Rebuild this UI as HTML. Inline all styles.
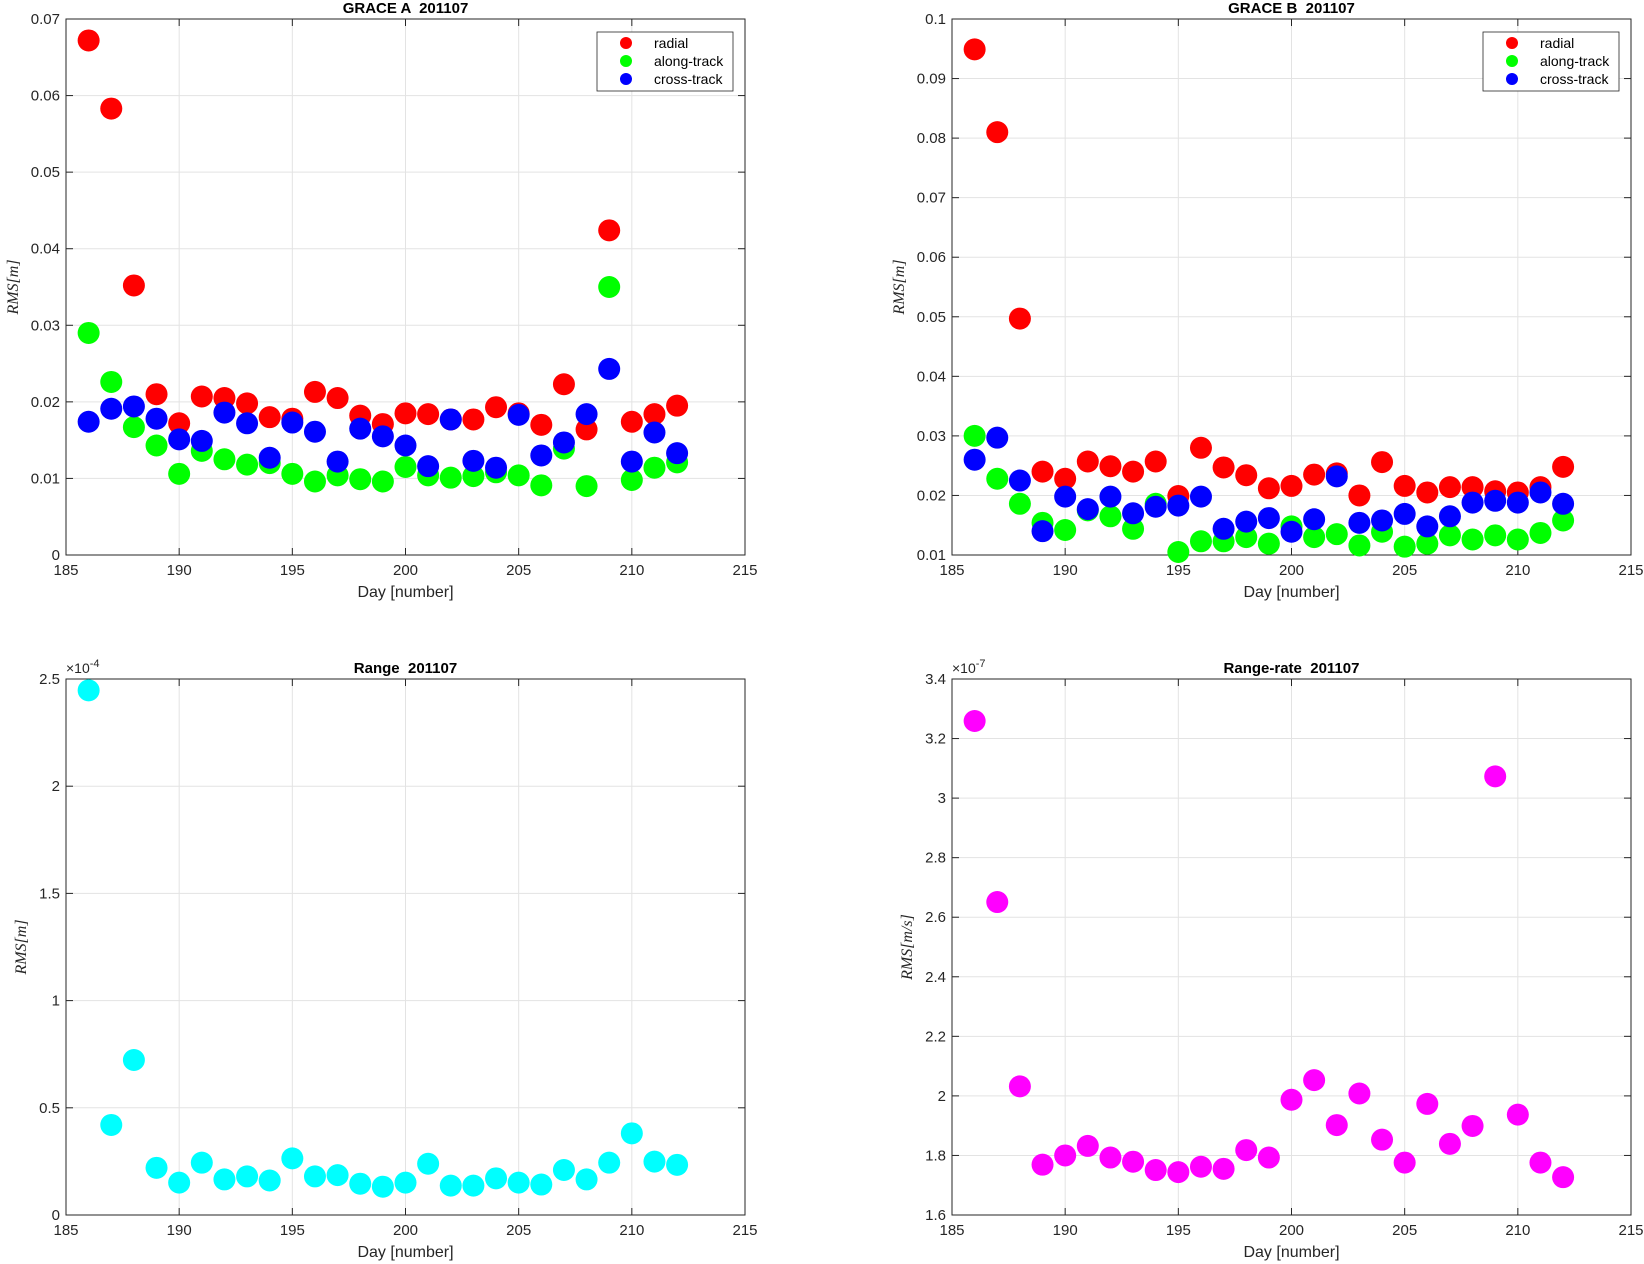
<!DOCTYPE html>
<html><head><meta charset="utf-8"><style>
body{margin:0;background:#fff;}
svg{display:block;font-family:"Liberation Sans",sans-serif;}
svg text{white-space:pre;}
</style></head><body>
<svg id="fig" width="1644" height="1264" viewBox="0 0 1644 1264"></svg>
<script>
const days=[186,187,188,189,190,191,192,193,194,195,196,197,198,199,200,201,202,203,204,205,206,207,208,209,210,211,212];
const aRadial=[0.0672,0.0583,0.0352,0.021,0.0172,0.0207,0.0205,0.0198,0.018,0.0178,0.0213,0.0205,0.0182,0.0171,0.0185,0.0184,0.0177,0.0177,0.0193,0.0185,0.017,0.0223,0.0164,0.0424,0.0174,0.0184,0.0195];
const aAlong=[0.029,0.0226,0.0167,0.0143,0.0106,0.0136,0.0125,0.0118,0.012,0.0106,0.0096,0.0104,0.0099,0.0096,0.0115,0.0104,0.0101,0.0103,0.0108,0.0104,0.0091,0.0139,0.009,0.035,0.0098,0.0114,0.0121];
const aCross=[0.0174,0.0191,0.0194,0.0178,0.0151,0.0149,0.0186,0.0172,0.0127,0.0173,0.0161,0.0122,0.0165,0.0155,0.0143,0.0116,0.0177,0.0123,0.0114,0.0183,0.013,0.0147,0.0184,0.0243,0.0122,0.016,0.0133];
const bRadial=[0.0949,0.081,0.0497,0.024,0.0228,0.0257,0.0249,0.024,0.0257,0.0199,0.028,0.0247,0.0234,0.0212,0.0216,0.0235,0.0237,0.02,0.0256,0.0216,0.0205,0.0214,0.0214,0.0207,0.0205,0.0214,0.0248];
const bAlong=[0.03,0.0228,0.0186,0.0154,0.0142,0.0175,0.0165,0.0144,0.0186,0.0105,0.0123,0.0123,0.013,0.0119,0.0148,0.013,0.0135,0.0116,0.0139,0.0114,0.0119,0.0133,0.0126,0.0133,0.0126,0.0137,0.0158];
const bCross=[0.026,0.0297,0.0225,0.014,0.0198,0.0177,0.0198,0.017,0.0181,0.0183,0.0198,0.0144,0.0156,0.0162,0.0139,0.016,0.0232,0.0154,0.0158,0.0169,0.0148,0.0165,0.0188,0.0191,0.0188,0.0205,0.0186];
const rangeVals=[2.447,0.42,0.723,0.22,0.151,0.244,0.166,0.18,0.161,0.264,0.18,0.186,0.146,0.132,0.151,0.239,0.137,0.137,0.171,0.151,0.142,0.21,0.166,0.244,0.381,0.249,0.234];
const rateVals=[3.259,2.651,2.032,1.769,1.8,1.832,1.793,1.779,1.751,1.744,1.762,1.755,1.818,1.793,1.987,2.053,1.902,2.008,1.853,1.776,1.973,1.839,1.899,3.073,1.937,1.776,1.727];
const xTicks=[185,190,195,200,205,210,215];
const aTicks=[0,0.01,0.02,0.03,0.04,0.05,0.06,0.07];
const aTickLabels=["0","0.01","0.02","0.03","0.04","0.05","0.06","0.07"];
const bTicks=[0.01,0.02,0.03,0.04,0.05,0.06,0.07,0.08,0.09,0.1];
const bTickLabels=["0.01","0.02","0.03","0.04","0.05","0.06","0.07","0.08","0.09","0.1"];
const rTicks=[0,0.5,1,1.5,2,2.5];
const rTickLabels=["0","0.5","1","1.5","2","2.5"];
const rrTicks=[1.6,1.8,2,2.2,2.4,2.6,2.8,3,3.2,3.4];
const rrTickLabels=["1.6","1.8","2","2.2","2.4","2.6","2.8","3","3.2","3.4"];

const NS="http://www.w3.org/2000/svg";
const svg=document.getElementById('fig');
function mk(tag,attrs,parent,text){const e=document.createElementNS(NS,tag);for(const k in attrs)e.setAttribute(k,attrs[k]);if(text!==undefined)e.textContent=text;(parent||svg).appendChild(e);return e;}

function panel(o){
  const g=mk('g',{});
  
  
  const L=o.x,T=o.y,W=679,H=536;
  const sx=v=>L+(v-185)/30*W;
  const sy=v=>T+H-(v-o.ymin)/(o.ymax-o.ymin)*H;
  mk('rect',{x:L,y:T,width:W,height:H,fill:'#fff'},g);
  xTicks.forEach(t=>{const x=sx(t);
    const gl=mk('line',{x1:x,x2:x,y1:T,y2:T+H,stroke:'#e3e3e3','stroke-width':1},g);
    
    mk('line',{x1:x,x2:x,y1:T+H,y2:T+H-7,stroke:'#262626'},g);
    mk('line',{x1:x,x2:x,y1:T,y2:T+7,stroke:'#262626'},g);
    const tl=mk('text',{x:x,y:T+H+20,'font-size':15,fill:'#262626','text-anchor':'middle'},g,String(t));
    
  });
  o.ticks.forEach((t,i)=>{const y=sy(t);
    const gl=mk('line',{x1:L,x2:L+W,y1:y,y2:y,stroke:'#e3e3e3','stroke-width':1},g);
    
    mk('line',{x1:L,x2:L+7,y1:y,y2:y,stroke:'#262626'},g);
    mk('line',{x1:L+W,x2:L+W-7,y1:y,y2:y,stroke:'#262626'},g);
    const tl=mk('text',{x:L-6,y:y+5,'font-size':15,fill:'#262626','text-anchor':'end'},g,o.labels[i]);
    
  });
  const box=mk('rect',{x:L,y:T,width:W,height:H,fill:'none',stroke:'#262626','stroke-width':1},g);
  
  o.series.forEach(s=>{
    const sg=mk('g',{fill:s.color},g);
    
    s.vals.forEach((v,i)=>{const c=mk('circle',{cx:sx(days[i]),cy:sy(v),r:11},sg);
      });
  });
  const ti=mk('text',{x:L+W/2,y:T-6,'font-size':15,'font-weight':'bold',fill:'#000','text-anchor':'middle'},g,o.title);
  
  const xl=mk('text',{x:L+W/2,y:T+H+42,'font-size':16,fill:'#262626','text-anchor':'middle'},g,'Day [number]');
  
  const yx=o.ylx, yy=T+H/2;
  const yl=mk('text',{x:yx,y:yy,'font-size':16,'font-style':'italic','font-family':'"Liberation Serif",serif',fill:'#262626','text-anchor':'middle',transform:`rotate(-90 ${yx} ${yy})`},g,o.ylabel);
  
  if(o.exp){const ex=mk('text',{x:L,y:T-6,'font-size':15,fill:'#262626'},g);
    
    mk('tspan',{'font-size':14},ex,'×10');mk('tspan',{dy:-6,'font-size':11},ex,o.exp);}
  if(o.legend){const lx=L+W-148, ly=T+13;
    const lg=mk('g',{},g);
    mk('rect',{x:lx,y:ly,width:136,height:59,fill:'#fff',stroke:'#262626','stroke-width':0.8},lg);
    o.series.forEach((s,i)=>{const e=mk('g',{},lg);
      
      mk('circle',{cx:lx+29,cy:ly+11+i*18,r:6,fill:s.color},e);
      mk('text',{x:lx+57,y:ly+16+i*18,'font-size':14,fill:'#000'},e,s.label);});
  }
}
const trio=(r,a,c)=>[{key:'radial',label:'radial',color:'#ff0000',vals:r},{key:'along-track',label:'along-track',color:'#00ff00',vals:a},{key:'cross-track',label:'cross-track',color:'#0000ff',vals:c}];
panel({name:'grace-a-panel',x:66,y:19,ymin:0,ymax:0.07,ticks:aTicks,labels:aTickLabels,title:'GRACE A  201107',ylabel:'RMS[m]',ylx:18,legend:true,series:trio(aRadial,aAlong,aCross)});
panel({name:'grace-b-panel',x:952,y:19,ymin:0.01,ymax:0.1,ticks:bTicks,labels:bTickLabels,title:'GRACE B  201107',ylabel:'RMS[m]',ylx:904,legend:true,series:trio(bRadial,bAlong,bCross)});
panel({name:'range-panel',x:66,y:679,ymin:0,ymax:2.5,ticks:rTicks,labels:rTickLabels,title:'Range  201107',ylabel:'RMS[m]',ylx:26,exp:'-4',series:[{key:'range',label:'range',color:'#00ffff',vals:rangeVals}]});
panel({name:'range-rate-panel',x:952,y:679,ymin:1.6,ymax:3.4,ticks:rrTicks,labels:rrTickLabels,title:'Range-rate  201107',ylabel:'RMS[m/s]',ylx:912,exp:'-7',series:[{key:'range-rate',label:'range-rate',color:'#ff00ff',vals:rateVals}]});
</script>
</body></html>
